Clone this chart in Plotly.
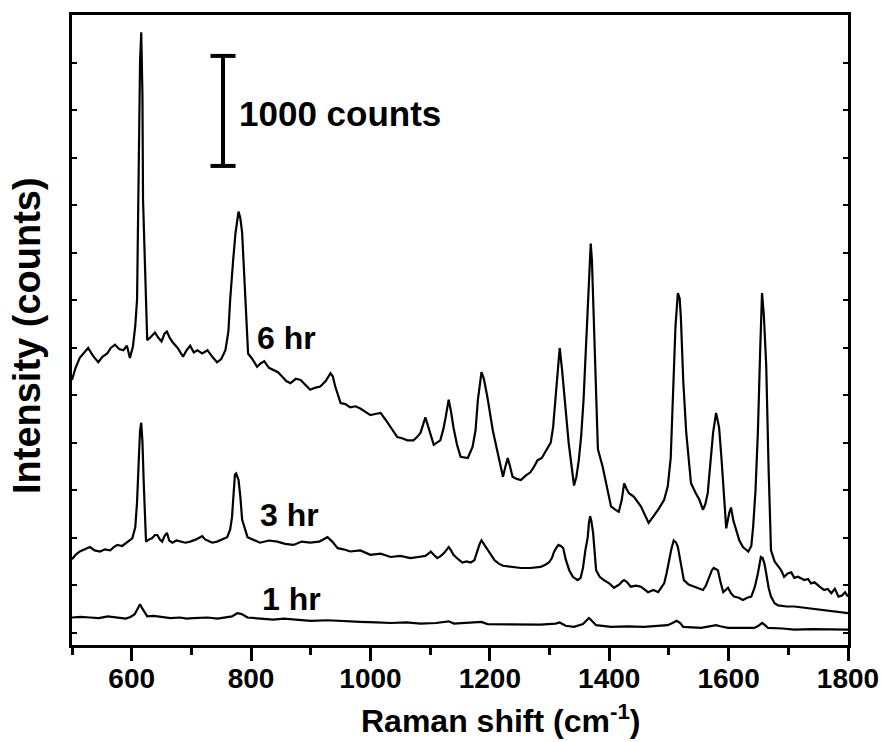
import plotly.graph_objects as go

# Raman shift (cm-1) and intensity (counts, common offset scale)
x_6hr = [500, 506, 513, 520, 527, 535, 544, 551, 559, 565, 572, 579, 586, 592, 597, 602, 606, 609, 612, 614, 616, 618, 619, 622,
         624, 626, 632, 639, 645, 650, 655, 659, 664, 669, 677, 686, 692, 698, 704, 710, 718, 727, 735, 743, 750, 757, 762,
         765, 770, 774, 779, 782, 785, 790, 795, 802, 810, 816, 822, 830, 837, 845, 852, 859, 866, 875, 883, 891, 899, 908,
         916, 925, 933, 937, 941, 950, 958, 966, 975, 983, 991, 1000, 1008, 1017, 1025, 1031, 1037, 1045, 1053, 1062, 1072,
         1078, 1084, 1092, 1097, 1106, 1117, 1122, 1126, 1131, 1135, 1139, 1145, 1151, 1163, 1171, 1176, 1180, 1186, 1190,
         1196, 1205, 1213, 1222, 1226, 1230, 1234, 1238, 1245, 1252, 1260, 1268, 1274, 1280, 1287, 1294, 1302, 1306, 1310,
         1314, 1317, 1321, 1327, 1332, 1341, 1345, 1349, 1353, 1357, 1361, 1364, 1367, 1369, 1371, 1374, 1378, 1381, 1389,
         1398, 1403, 1410, 1416, 1421, 1425, 1429, 1433, 1441, 1447, 1453, 1460, 1466, 1474, 1482, 1492, 1498, 1503, 1507,
         1511, 1515, 1518, 1520, 1524, 1529, 1537, 1545, 1551, 1557, 1561, 1565, 1570, 1574, 1579, 1584, 1588, 1591, 1596,
         1601, 1604, 1608, 1612, 1618, 1624, 1633, 1638, 1641, 1645, 1649, 1653, 1656, 1659, 1663, 1667, 1671, 1677, 1683,
         1688, 1693, 1699, 1705, 1710, 1716, 1722, 1727, 1733, 1738, 1744, 1750, 1755, 1760, 1766, 1772, 1778, 1784, 1790,
         1795, 1800]
y_6hr = [2410, 2520, 2610, 2660, 2700, 2630, 2570, 2620, 2650, 2700, 2730, 2690, 2680, 2720, 2610, 2710, 2900, 3140, 4650,
         5300, 5570, 5000, 4050, 3500, 3140, 2770, 2800, 2840, 2790, 2760, 2830, 2850, 2790, 2750, 2700, 2620, 2680, 2720,
         2660, 2680, 2650, 2680, 2620, 2570, 2600, 2680, 2850, 3140, 3500, 3750, 3940, 3880, 3750, 3140, 2650, 2600, 2530,
         2560, 2580, 2520, 2500, 2480, 2440, 2400, 2380, 2420, 2410, 2360, 2320, 2340, 2350, 2400, 2470, 2440, 2350, 2200,
         2190, 2160, 2170, 2150, 2120, 2090, 2100, 2110, 2050, 2000, 1950, 1890, 1880, 1860, 1860, 1890, 1930, 2070, 1980,
         1820, 1860, 1960, 2070, 2230, 2120, 1980, 1820, 1710, 1700, 1800, 1950, 2230, 2480, 2420, 2250, 1950, 1750, 1530,
         1620, 1700, 1620, 1530, 1510, 1500, 1540, 1570, 1620, 1680, 1700, 1770, 1840, 1980, 2230, 2550, 2700, 2500, 2140,
         1840, 1450, 1530, 1680, 1900, 2230, 2700, 3140, 3500, 3650, 3500, 2980, 2300, 1780, 1620, 1380, 1260, 1230, 1210,
         1320, 1470, 1420, 1380, 1350, 1300, 1260, 1180, 1110, 1170, 1230, 1320, 1440, 1700, 2230, 2900, 3200, 3150, 2980,
         2400, 1930, 1470, 1380, 1320, 1230, 1280, 1380, 1650, 1930, 2110, 1980, 1700, 1470, 1060, 1200, 1250, 1130, 1050,
         950, 890, 850, 900, 1070, 1400, 1930, 2700, 3200, 3000, 2540, 1600, 860, 760, 710, 680, 620, 650, 660, 610, 620,
         600, 590, 600, 560, 570, 540, 520, 500, 510, 470, 510, 440, 450, 480, 440]

x_3hr = [500, 506, 513, 521, 530, 538, 547, 555, 564, 570, 576, 584, 592, 597, 601,
         606, 609, 612, 614, 616, 618, 620, 624, 629, 634, 639, 643, 647, 651, 655,
         659, 663, 668, 675, 681, 690, 698, 708, 718, 723, 727, 735, 743, 752, 760,
         765, 768, 771, 773, 775, 779, 782, 785, 794, 805, 815, 830, 844, 857, 871,
         885, 899, 914, 928, 936, 945, 955, 966, 983, 1000, 1017, 1034, 1050, 1067, 1080,
         1092, 1097, 1101, 1106, 1112, 1118, 1124, 1128, 1131, 1135, 1139, 1147, 1154, 1161, 1168,
         1174, 1178, 1183, 1186, 1190, 1196, 1202, 1208, 1215, 1222, 1235, 1252, 1268, 1285, 1293,
         1299, 1304, 1307, 1311, 1315, 1319, 1323, 1327, 1333, 1339, 1347, 1352, 1356, 1360, 1364,
         1366, 1368, 1370, 1373, 1378, 1384, 1391, 1400, 1408, 1417, 1422, 1425, 1430, 1436, 1445,
         1453, 1465, 1474, 1482, 1492, 1496, 1500, 1504, 1508, 1512, 1515, 1520, 1525, 1533, 1542,
         1550, 1557, 1562, 1567, 1572, 1575, 1579, 1582, 1587, 1591, 1599, 1604, 1609, 1617, 1624,
         1631, 1638, 1644, 1649, 1652, 1654, 1657, 1660, 1663, 1667, 1671, 1677, 1683, 1697, 1710,
         1724, 1738, 1752, 1767, 1783, 1800]
y_3hr = [780, 820, 850, 870, 890, 860, 850, 870, 860, 890, 910, 900, 930, 950, 970,
         1070, 1300, 1700, 1950, 2020, 1850, 1500, 940, 960, 970, 1000, 1000, 960, 940, 990,
         1020, 950, 930, 950, 940, 930, 940, 960, 990, 960, 950, 930, 940, 960, 980,
         1050, 1160, 1400, 1550, 1560, 1500, 1350, 1140, 980, 950, 930, 950, 940, 920, 910,
         940, 930, 940, 980, 940, 880, 870, 850, 860, 820, 830, 800, 810, 790, 800,
         810, 830, 850, 820, 790, 810, 840, 870, 890, 860, 820, 780, 750, 760, 750,
         770, 840, 920, 950, 920, 870, 820, 770, 740, 720, 710, 700, 700, 710, 730,
         750, 790, 840, 880, 910, 900, 880, 780, 680, 620, 590, 610, 700, 860, 980,
         1110, 1170, 1130, 1020, 680, 620, 590, 560, 520, 550, 580, 590, 570, 530, 540,
         530, 480, 500, 480, 560, 650, 770, 870, 950, 930, 890, 750, 590, 550, 530,
         510, 500, 540, 620, 680, 700, 690, 680, 560, 480, 520, 470, 440, 430, 410,
         430, 440, 530, 650, 740, 800, 790, 740, 650, 520, 440, 380, 360, 350, 350,
         340, 330, 320, 310, 300, 290]

x_1hr = [500, 515, 530, 545, 560, 575, 590, 598, 605, 610, 614, 617, 620, 626, 637, 648, 665, 681, 692, 703, 715, 727, 744,
         760, 768, 774, 777, 781, 785, 794, 815, 837, 855, 871, 900, 928, 955, 983, 1010, 1034, 1060, 1084, 1110, 1124, 1131,
         1140, 1165, 1180, 1186, 1196, 1225, 1252, 1285, 1310, 1317, 1327, 1341, 1356, 1362, 1366, 1370, 1378, 1403, 1430,
         1458, 1480, 1498, 1506, 1513, 1519, 1524, 1554, 1572, 1579, 1586, 1599, 1620, 1643, 1650, 1656, 1661, 1666, 1690,
         1710, 1740, 1770, 1800]
y_1hr = [250, 255, 250, 245, 260, 250, 240, 255, 280, 330, 370, 340, 310, 260, 265, 255, 245, 250, 240, 245, 250, 250, 240,
         250, 260, 280, 290, 285, 280, 250, 240, 230, 240, 235, 220, 225, 215, 210, 205, 200, 205, 195, 200, 210, 215, 195,
         200, 205, 210, 190, 190, 185, 185, 195, 205, 175, 165, 190, 225, 245, 225, 180, 165, 170, 165, 170, 180, 200, 220,
         200, 165, 155, 170, 180, 170, 155, 155, 155, 175, 200, 180, 155, 150, 140, 145, 140, 140]

x_ticks_major = 200
series = [("6 hr", x_6hr, y_6hr), ("3 hr", x_3hr, y_3hr), ("1 hr", x_1hr, y_1hr)]
label_pos = {"6 hr": (859, 2791), "3 hr": (864, 1182), "1 hr": (867, 418)}

FONT = "Liberation Sans, Arial"
fig = go.Figure()
for name, xs, ys in series:
    fig.add_trace(go.Scatter(x=xs, y=ys, mode="lines", name=name,
                             line=dict(color="black", width=2.2), showlegend=False))
    lx, ly = label_pos[name]
    fig.add_annotation(x=lx, y=ly, xref="x", yref="y", text=name, showarrow=False,
                       xanchor="center", yanchor="middle",
                       font=dict(family=FONT, size=32, color="black", weight="bold"))

# scale bar: 1000 counts
bar_x, bar_y0, bar_y1 = 753, 4355, 5355
fig.add_shape(type="line", x0=bar_x, x1=bar_x, y0=bar_y0, y1=bar_y1, xref="x", yref="y",
              line=dict(color="black", width=4))
for yy in (bar_y0, bar_y1):
    fig.add_shape(type="line", x0=732, x1=774, y0=yy, y1=yy, xref="x", yref="y",
                  line=dict(color="black", width=4))
fig.add_annotation(x=777, y=4830, xref="x", yref="y", text="1000 counts", showarrow=False,
                   xanchor="left", yanchor="middle",
                   font=dict(family=FONT, size=35, color="black", weight="bold"))

fig.add_annotation(x=0.553, y=-0.118, xref="paper", yref="paper", text="Raman shift (cm<sup>-1</sup>)",
                   showarrow=False, xanchor="center", yanchor="middle",
                   font=dict(family=FONT, size=32, color="black", weight="bold"))
fig.add_annotation(x=-0.058, y=0.492, xref="paper", yref="paper", text="Intensity (counts)", textangle=-90,
                   showarrow=False, xanchor="center", yanchor="middle",
                   font=dict(family=FONT, size=38, color="black", weight="bold"))

fig.update_layout(
    width=881, height=742,
    margin=dict(l=72, r=33, t=15, b=97, autoexpand=False),
    paper_bgcolor="white", plot_bgcolor="white",
    xaxis=dict(range=[500, 1800], tick0=0, dtick=x_ticks_major, ticks="outside", ticklen=13, tickwidth=2.5,
               tickcolor="black", showline=True, linewidth=2.5, linecolor="black", mirror=True,
               showgrid=False, zeroline=False, automargin=False, ticklabelstandoff=-6,
               minor=dict(dtick=100, ticks="outside", ticklen=7, tickwidth=2.5, tickcolor="black"),
               tickfont=dict(family=FONT, size=28, color="black", weight="bold")),
    yaxis=dict(range=[0, 5727], tick0=109, dtick=432, ticks="inside", ticklen=5, tickwidth=1.5,
               tickcolor="black", showline=True, linewidth=2.5, linecolor="black", mirror="ticks",
               showgrid=False, zeroline=False, showticklabels=False, automargin=False),
)

fig.write_html("out.html")
